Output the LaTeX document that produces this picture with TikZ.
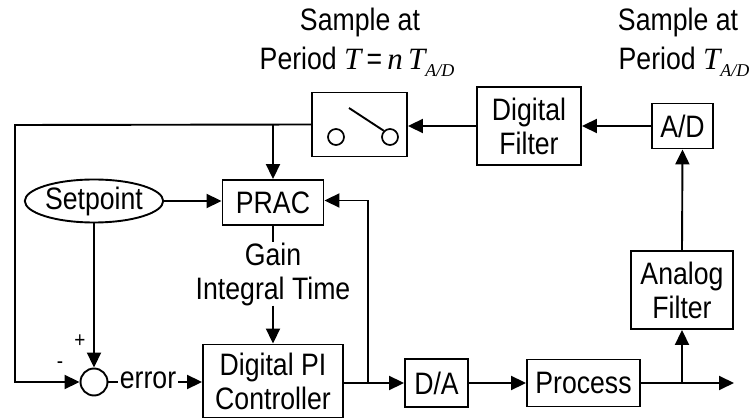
\documentclass[tikz,border=0pt]{standalone}
\usepackage{fontspec}
\setmainfont[FakeStretch=0.86]{Liberation Sans}
\newfontfamily\mathlike{Liberation Serif}
\usetikzlibrary{arrows.meta,calc,shapes.geometric}
\newcommand{\itT}[1]{{\mathlike\itshape #1}}
\begin{document}
\begin{tikzpicture}[x=1pt,y=-1pt,
  every node/.style={font=\fontsize{31}{34}\selectfont},
  blk/.style={draw,line width=1.9pt,inner sep=0pt,align=center},
  wire/.style={line width=1.9pt},
  arr/.style={wire,-{Triangle[length=15pt,width=14pt]}},
  lbl/.style={inner sep=1pt,align=center}]
\useasboundingbox (0,0) rectangle (753,419);

% upper row: sampler, digital filter, A/D
\node[blk,minimum width=95pt,minimum height=64pt] (sw) at (359.5,124.5) {};
\node[blk,minimum width=104pt,minimum height=78pt] (df) at (529,126) {Digital\\Filter};
\node[blk,minimum width=61pt,minimum height=45pt] (ad) at (682.5,126) {A/D};

% switch symbol inside the sampler
\node[draw,circle,line width=1.7pt,minimum size=16pt,inner sep=0pt] (c1) at (336,137) {};
\node[draw,circle,line width=1.7pt,minimum size=16pt,inner sep=0pt] (c2) at (390,137) {};
\coordinate (k1) at (349,108);
\draw[wire] (k1) -- (c2.north west);

% sampling labels
\node[lbl] (s1a) at (360,22) {Sample at};
\node[lbl] (s1b) at (357,62) {Period \itT{T}\,=\,\itT{n}\,\itT{T}\raisebox{-0.45ex}{\fontsize{18}{18}\selectfont\itT{A/D}}};
\node[lbl] (s2a) at (678,22) {Sample at};
\node[lbl] (s2b) at (684,62) {Period \itT{T}\raisebox{-0.45ex}{\fontsize{18}{18}\selectfont\itT{A/D}}};

% middle: setpoint and adaptation block
\node[blk,ellipse,minimum width=127pt,minimum height=43pt] (sp) at (94,201) {Setpoint};
\node[blk,minimum width=101pt,minimum height=45pt] (prac) at (273,202.5) {PRAC};
\node[lbl,inner sep=0pt] (gain) at (273,274) {Gain\\Integral Time};

% lower row
\node[blk,circle,minimum size=27pt] (sum) at (94,382) {};
\node[lbl,inner sep=2pt] (err) at (148,380) {error};
\node[blk,minimum width=140pt,minimum height=73pt] (pi) at (273,381) {Digital PI\\Controller};
\node[blk,minimum width=63pt,minimum height=48pt] (da) at (436.5,383) {D/A};
\node[blk,minimum width=113pt,minimum height=47pt] (proc) at (583.5,383) {Process};
\node[blk,minimum width=102pt,minimum height=78pt] (af) at (682,290) {Analog\\Filter};

\node[lbl] (plus) at (80,341) {\fontsize{22}{22}\selectfont +};
\node[lbl] (minus) at (60,365) {\fontsize{22}{22}\selectfont -};

% connection points
\coordinate (fbl) at (15,125);
\coordinate (br) at (273,125);
\coordinate (cb) at (368,383);
\coordinate (tap) at (682,383);
\coordinate (out) at (734,383);

% signal paths
\draw[arr] (ad.west) -- (df.east);
\draw[arr] (df.west) -- (sw.east |- df.west);
\draw[arr] (sw.west) -- (fbl) |- (sum.west);
\draw[arr] (br) -- (prac.north);
\draw[arr] (sp.east) -- (prac.west |- sp.east);
\draw[arr] (sp.south) -- (sum.north);
\draw[wire] (prac.south) -- (gain.north);
\draw[arr] (gain.south) -- (pi.north);
\draw[wire] (sum.east) -- (err.west |- sum.east);
\draw[arr] (err.east |- sum.east) -- (pi.west |- sum.east);
\draw[arr] (pi.east |- cb) -- (da.west);
\draw[arr] (cb) |- ($(prac.east)+(0,-2)$);
\draw[arr] (da.east) -- (proc.west);
\draw[arr] (proc.east) -- (out);
\draw[arr] (tap) -- (af.south);
\draw[arr] (af.north) -- (ad.south);
\end{tikzpicture}
\end{document}
